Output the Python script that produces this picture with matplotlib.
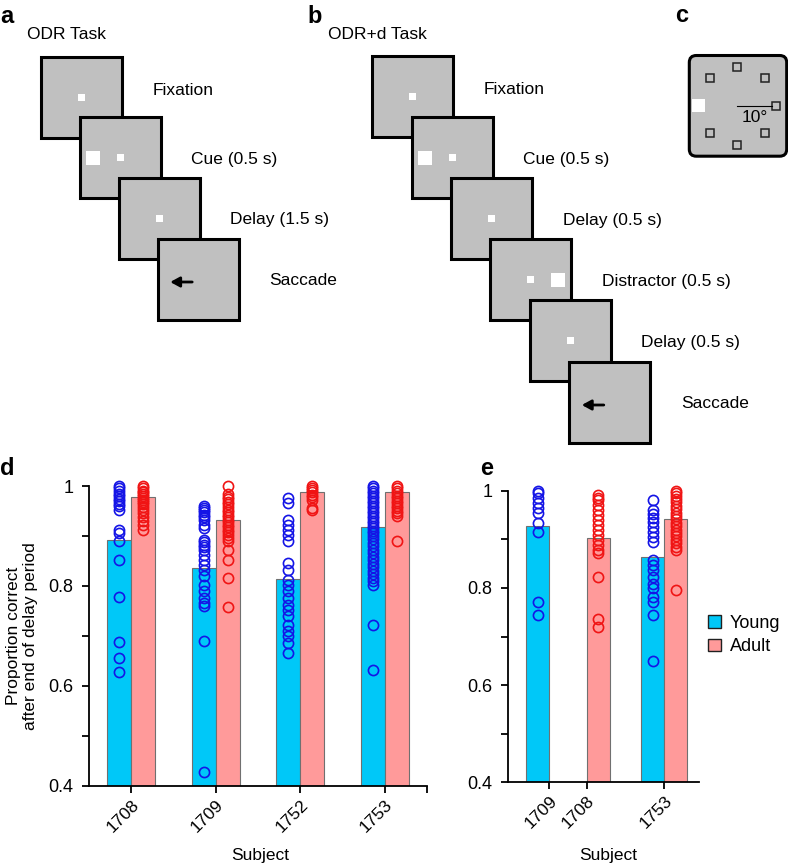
import numpy as np
import matplotlib
matplotlib.use('Agg')
import matplotlib.pyplot as plt
from matplotlib.patches import Rectangle, FancyBboxPatch, Patch

plt.rcParams['font.family'] = ['Liberation Sans', 'DejaVu Sans']

# ---- task diagrams (a, b)
a_steps = ['Fixation', 'Cue (0.5 s)', 'Delay (1.5 s)', 'Saccade']
a_kinds = ['fix', 'cue', 'fix', 'sac']
b_steps = ['Fixation', 'Cue (0.5 s)', 'Delay (0.5 s)', 'Distractor (0.5 s)', 'Delay (0.5 s)', 'Saccade']
b_kinds = ['fix', 'cue', 'fix', 'dist', 'fix', 'sac']

# ---- panel d data
d_subjects = ['1708', '1709', '1752', '1753']
d_young_mean = [0.892, 0.835, 0.813, 0.917]
d_adult_mean = [0.977, 0.932, 0.987, 0.987]
d_young_pts = [
    [1.0, 0.995, 0.989, 0.984, 0.979, 0.974, 0.969, 0.964, 0.959, 0.952, 0.912, 0.905,
     0.889, 0.852, 0.777, 0.687, 0.655, 0.627],
    [0.959, 0.955, 0.952, 0.947, 0.942, 0.937, 0.932, 0.922, 0.916, 0.892, 0.887, 0.882,
     0.877, 0.872, 0.862, 0.852, 0.842, 0.832, 0.819, 0.802, 0.789, 0.776, 0.766, 0.759,
     0.689, 0.427],
    [0.975, 0.965, 0.932, 0.922, 0.912, 0.902, 0.889, 0.845, 0.832, 0.812, 0.802, 0.789,
     0.776, 0.762, 0.752, 0.739, 0.722, 0.709, 0.699, 0.685, 0.665],
    [1.0, 0.995, 0.99, 0.985, 0.98, 0.975, 0.97, 0.965, 0.96, 0.955, 0.95, 0.945, 0.94,
     0.935, 0.93, 0.925, 0.92, 0.915, 0.91, 0.905, 0.9, 0.893, 0.886, 0.879, 0.872, 0.865,
     0.858, 0.851, 0.844, 0.837, 0.83, 0.823, 0.816, 0.809, 0.802, 0.722, 0.632],
]
d_adult_pts = [
    [1.0, 0.995, 0.99, 0.987, 0.983, 0.98, 0.976, 0.972, 0.968, 0.963, 0.958, 0.952,
     0.945, 0.938, 0.93, 0.922, 0.912],
    [1.0, 0.983, 0.978, 0.973, 0.968, 0.963, 0.957, 0.952, 0.947, 0.942, 0.937, 0.932,
     0.927, 0.922, 0.917, 0.912, 0.907, 0.902, 0.896, 0.889, 0.872, 0.852, 0.815, 0.757],
    [1.0, 0.996, 0.992, 0.987, 0.982, 0.977, 0.972, 0.955, 0.952],
    [1.0, 0.995, 0.99, 0.985, 0.98, 0.975, 0.97, 0.965, 0.96, 0.955, 0.95, 0.945, 0.94,
     0.889],
]

# ---- panel e data
e_subjects = ['1709', '1708', '1753']
e_young_mean = [0.928, None, 0.863]
e_adult_mean = [None, 0.903, 0.942]
e_young_pts = [
    [1.0, 0.995, 0.985, 0.974, 0.964, 0.954, 0.933, 0.916, 0.770, 0.744],
    None,
    [0.981, 0.96, 0.953, 0.944, 0.936, 0.926, 0.916, 0.905, 0.895, 0.857, 0.847, 0.837,
     0.823, 0.809, 0.799, 0.782, 0.771, 0.744, 0.649],
]
e_adult_pts = [
    None,
    [0.991, 0.986, 0.981, 0.971, 0.961, 0.95, 0.94, 0.93, 0.92, 0.909, 0.899, 0.889,
     0.878, 0.872, 0.822, 0.735, 0.719],
    [1.0, 0.995, 0.99, 0.983, 0.976, 0.969, 0.962, 0.955, 0.948, 0.941, 0.934, 0.927,
     0.92, 0.913, 0.906, 0.899, 0.892, 0.885, 0.878, 0.795],
]

GRAY = '#c0c0c0'
CYAN = '#00c8f8'
PINK = '#ff9a9a'
BLUE = '#1414e6'
RED = '#f01414'

W, H = 788, 865
fig = plt.figure(figsize=(W / 100, H / 100), dpi=100)

# overlay axes in pixel units for the diagrams
ov = fig.add_axes([0, 0, 1, 1])
ov.set_xlim(0, W)
ov.set_ylim(H, 0)
ov.axis('off')

FS = 81


def draw_sequence(x0, y0, dx, dy, kinds, steps):
    for i, (kind, lab) in enumerate(zip(kinds, steps)):
        x = x0 + i * dx
        y = y0 + i * dy
        z = 2 + i
        ov.add_patch(Rectangle((x, y), FS, FS, fc=GRAY, ec='k', lw=2.2, zorder=z))
        cx, cy = x + FS / 2, y + FS / 2
        if kind != 'sac':
            ov.add_patch(Rectangle((cx - 3.5, cy - 3.5), 7, 7, fc='white', ec='none', zorder=z))
        if kind == 'cue':
            ov.add_patch(Rectangle((cx - 34.5, cy - 7), 14, 14, fc='white', ec='none', zorder=z))
        if kind == 'dist':
            ov.add_patch(Rectangle((cx + 20.5, cy - 7), 14, 14, fc='white', ec='none', zorder=z))
        if kind == 'sac':
            ov.annotate('', xy=(cx - 28, cy + 3), xytext=(cx - 6, cy + 3),
                        arrowprops=dict(arrowstyle='-|>,head_length=0.55,head_width=0.3',
                                        lw=2, color='k', shrinkA=0, shrinkB=0),
                        zorder=z + 0.5)
        ty = y + (38 if i == 0 else 46.5)
        ov.text(x + FS + 30.5, ty, lab, fontsize=12.5, va='baseline', ha='left')


draw_sequence(41, 56.7, 38.9, 60.6, a_kinds, a_steps)
draw_sequence(372.3, 56, 39.4, 61.1, b_kinds, b_steps)

ov.text(0, 22.7, 'a', fontsize=17, fontweight='bold', va='baseline')
ov.text(27, 39.3, 'ODR Task', fontsize=12.5, va='baseline')
ov.text(307, 22.7, 'b', fontsize=17, fontweight='bold', va='baseline')
ov.text(328, 39.3, 'ODR+d Task', fontsize=12.5, va='baseline')
ov.text(675, 21.7, 'c', fontsize=17, fontweight='bold', va='baseline')

# panel c: target layout
ov.add_patch(FancyBboxPatch((689.3, 55.5), 97.4, 100.7, boxstyle='round,pad=0,rounding_size=7',
                            fc=GRAY, ec='k', lw=2.2, zorder=2))
ccx, ccy, rad = 737.5, 105.5, 39
for ang in range(0, 360, 45):
    tx = ccx + rad * np.cos(np.radians(ang))
    ty = ccy - rad * np.sin(np.radians(ang))
    if ang == 180:
        ov.add_patch(Rectangle((tx - 6.5, ty - 6.5), 13, 13, fc='white', ec='none', zorder=3))
    else:
        ov.add_patch(Rectangle((tx - 4, ty - 4), 8, 8, fc='none', ec='#222222', lw=1.1, zorder=3))
ov.plot([ccx, ccx + rad - 4], [ccy, ccy], color='k', lw=0.8, zorder=3)
ov.text(755, 118, '10°', fontsize=12.5, ha='center', va='center', zorder=3)

ov.text(0, 475, 'd', fontsize=17, fontweight='bold', va='baseline')
ov.text(480, 475, 'e', fontsize=17, fontweight='bold', va='baseline')


def style_axis(ax):
    ax.set_ylim(0.4, 1.0)
    for s in ['top', 'right']:
        ax.spines[s].set_visible(False)
    for s in ['left', 'bottom']:
        ax.spines[s].set_linewidth(1.3)
    ax.set_yticks([0.4, 0.6, 0.8, 1.0])
    ax.set_yticklabels(['0.4', '0.6', '0.8', '1'])
    ax.set_yticks([0.5, 0.7, 0.9], minor=True)
    ax.tick_params(which='both', direction='out', length=5, width=1.3)
    ax.tick_params(axis='y', labelsize=13, pad=6)
    ax.tick_params(axis='x', labelsize=12.5, pad=3)


def draw_points(ax, x, pts, color):
    ax.plot(np.full(len(pts), x), pts, 'o', mfc='none', mec=color, ms=7.3, mew=1.2,
            clip_on=False, zorder=4)


# ---- panel d
ax_d = fig.add_axes([89 / W, 1 - 785.7 / H, 338 / W, 299.7 / H])
bw = 0.285
xd = np.arange(1, len(d_subjects) + 1)
ax_d.bar(xd - bw / 2, d_young_mean, bw, color=CYAN, edgecolor='#707070', lw=0.8, zorder=2)
ax_d.bar(xd + bw / 2, d_adult_mean, bw, color=PINK, edgecolor='#707070', lw=0.8, zorder=2)
for i in range(len(d_subjects)):
    draw_points(ax_d, xd[i] - bw / 2, d_young_pts[i], BLUE)
    draw_points(ax_d, xd[i] + bw / 2, d_adult_pts[i], RED)
ax_d.set_xlim(0.5, 4.5)
style_axis(ax_d)
ax_d.set_xticks(xd)
ax_d.set_xticks([4.5], minor=True)
ax_d.set_xticklabels(d_subjects, rotation=45, ha='right', va='top', rotation_mode='anchor')
ax_d.set_xlabel('Subject', fontsize=12.5)
ax_d.xaxis.set_label_coords(0.506, -0.208)
ax_d.set_ylabel('Proportion correct\nafter end of delay period', fontsize=12.5)
ax_d.yaxis.set_label_coords(-0.15, 0.5)

# ---- panel e
ax_e = fig.add_axes([507.7 / W, 1 - 782.3 / H, 191.3 / W, 291.6 / H])
bwe = 0.36
xe = [1.152, 1.739, 2.956]
for i in range(len(e_subjects)):
    if e_young_mean[i] is not None:
        ax_e.bar(xe[i] - bwe / 2, e_young_mean[i], bwe, color=CYAN, edgecolor='#707070',
                 lw=0.8, zorder=2)
        draw_points(ax_e, xe[i] - bwe / 2, e_young_pts[i], BLUE)
    if e_adult_mean[i] is not None:
        ax_e.bar(xe[i] + bwe / 2, e_adult_mean[i], bwe, color=PINK, edgecolor='#707070',
                 lw=0.8, zorder=2)
        draw_points(ax_e, xe[i] + bwe / 2, e_adult_pts[i], RED)
ax_e.set_xlim(0.5, 3.5)
style_axis(ax_e)
ax_e.set_xticks(xe)
ax_e.set_xticklabels(e_subjects, rotation=45, ha='right', va='top', rotation_mode='anchor')
ax_e.set_xlabel('Subject', fontsize=12.5)
ax_e.xaxis.set_label_coords(0.526, -0.226)

handles = [Patch(fc=CYAN, ec='#202020', lw=1), Patch(fc=PINK, ec='#202020', lw=1)]
fig.legend(handles, ['Young', 'Adult'], loc='center left',
           bbox_to_anchor=(708 / W, 1 - 635 / H), frameon=False, fontsize=13,
           handlelength=0.7, handleheight=0.7, handletextpad=0.5, labelspacing=0.35,
           borderpad=0, borderaxespad=0)

fig.savefig('out.png', dpi=100)
